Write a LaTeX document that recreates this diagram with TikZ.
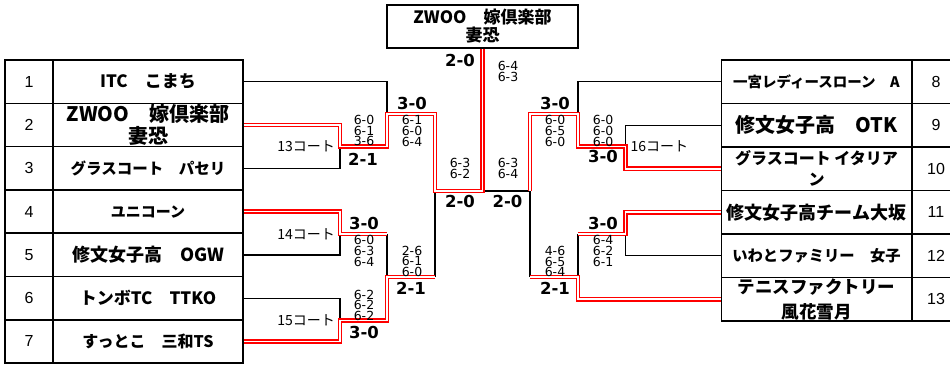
\documentclass[tikz,border=0pt]{standalone}
\usepackage{fontspec}
\setmainfont{Liberation Sans}
\newfontfamily\jp{Noto Sans CJK JP}
\newfontfamily\dv{DejaVu Sans}
\usetikzlibrary{positioning}

\begin{document}
\begin{tikzpicture}[x=1pt, y=-1pt,
    cell/.style={draw, line width=1.6pt, inner sep=0pt, minimum height=43.3pt, align=center},
    team/.style 2 args={cell, minimum width=190pt, font=\jp\bfseries\fontsize{#1}{#2}\selectfont},
    num/.style={cell, minimum width=48pt, font=\fontsize{16}{18}\selectfont},
    res/.style={inner sep=0pt, font=\dv\bfseries\fontsize{16.5}{18}\selectfont},
    sc/.style={inner sep=0pt, align=center, font=\dv\fontsize{12.5}{10.8}\selectfont},
    court/.style={inner sep=0pt, font=\jp\fontsize{14}{16}\selectfont},
    bline/.style={line width=1.3pt},
    rline/.style={draw=red, line width=1.5pt, double=white, double distance=1.8pt}]
    \useasboundingbox (0,0) rectangle (950,367);
    \clip (0,0) rectangle (950,367);

    \node[cell, minimum width=191pt, minimum height=43pt, font=\jp\bfseries\fontsize{17}{18}\selectfont] (title) at (482.5,26.5) {ZWOO　嫁倶楽部\\妻恐};

    \foreach \i in {1,...,7}
        \node[num] (n\i) at (29,{38.35+43.3*\i}) {\i};
    \foreach \i in {8,...,13}
        \node[num, minimum height=43.5pt] (n\i) at (936,{60+43.5*(\i-7.5)}) {\i};

    \node[team={17}{20}] (t1) at (148,81.65) {ITC　こまち};
    \node[team={20}{22}] (t2) at (148,124.95) {ZWOO　嫁倶楽部\\妻恐};
    \node[team={15.5}{20}] (t3) at (148,168.25) {グラスコート　パセリ};
    \node[team={15}{20}] (t4) at (148,211.55) {ユニコーン};
    \node[team={18}{20}] (t5) at (148,254.85) {修文女子高　OGW};
    \node[team={17}{20}] (t6) at (148,298.15) {トンボTC　TTKO};
    \node[team={16}{20}] (t7) at (148,341.45) {すっとこ　三和TS};
    \node[team={14.5}{20}, minimum height=43.5pt] (t8) at (816.5,81.75) {一宮レディースローン　A};
    \node[team={20}{22}, minimum height=43.5pt] (t9) at (816.5,125.25) {修文女子高　OTK};
    \node[team={16}{21}, minimum height=43.5pt] (t10) at (816.5,168.75) {グラスコート イタリア\\ン};
    \node[team={18}{20}, minimum height=43.5pt] (t11) at (816.5,212.25) {修文女子高チーム大坂};
    \node[team={15.3}{20}, minimum height=43.5pt] (t12) at (816.5,255.75) {いわとファミリー　女子};
    \node[team={17.5}{25}, minimum height=43.5pt] (t13) at (816.5,299.25) {テニスファクトリー\\風花雪月};

    \coordinate (a13) at (340,146.5);
    \coordinate (a14) at (340,234);
    \coordinate (a15) at (340,320.5);
    \coordinate (q1) at (387,114);
    \coordinate (q2) at (387,277);
    \coordinate (sL) at (435,191);
    \coordinate (fin) at (482.5,191);
    \coordinate (sR) at (530,191);
    \coordinate (q3) at (578,114);
    \coordinate (q4) at (578,277);
    \coordinate (a16) at (625.5,146.5);
    \coordinate (a17) at (625.5,234);

    \draw[bline] (t1.east) -| (a13 -| q1);
    \draw[bline] (t3.east) -| (a13);
    \draw[bline] (t5.east) -| (a14);
    \draw[bline] (t6.east) -| (a15);
    \draw[bline] (a14 -| q2) -- (a15 -| q2);
    \draw[bline] (q1 -| sL) -- (q2 -| sL);
    \draw[bline] (t8.west) -| (a16 -| q3);
    \draw[bline] (t9.west) -| (a16);
    \draw[bline] (t12.west) -| (a17);
    \draw[bline] (a17 -| q4) -- (t13.west -| q4);
    \draw[bline] (q3 -| sR) -- (q4 -| sR);
    \draw[bline] (fin) -- (sR);

    \draw[rline] (t2.east) -| (a13) -- (a13 -| q1) -- (q1) -- (q1 -| sL) -- (sL) -- (fin) -- (title.south);
    \draw[rline] (t4.east) -| (a14) -- (a14 -| q2);
    \draw[rline] (t7.east) -| (a15) -- (a15 -| q2) -- (q2) -- (q2 -| sL);
    \draw[rline] (t10.west) -| (a16) -- (a16 -| q3) -- (q3) -- (q3 -| sR) -- (sR);
    \draw[rline] (t11.west) -| (a17) -- (a17 -| q4);
    \draw[rline] (t13.west) -| (q4) -- (q4 -| sR);

    \node[court, left=5pt of a13] (c13) {13コート};
    \node[court, left=5pt of a14] (c14) {14コート};
    \node[court, left=5pt of a15] (c15) {15コート};
    \node[court, right=5pt of a16] (c16) {16コート};

    \node[sc] (s13) at (364,130.5) {6-0\\6-1\\3-6};
    \node[res] (r13) at (363,159) {2-1};
    \node[res] (rq1) at (412,103.3) {3-0};
    \node[sc] (sq1) at (412,131) {6-1\\6-0\\6-4};
    \node[res] (r14) at (364,223.3) {3-0};
    \node[sc] (s14) at (364,251) {6-0\\6-3\\6-4};
    \node[sc] (s15) at (364,305.3) {6-2\\6-2\\6-2};
    \node[res] (r15) at (364,332.3) {3-0};
    \node[sc] (sq2) at (412,261.3) {2-6\\6-1\\6-0};
    \node[res] (rq2) at (411,288.3) {2-1};

    \node[res] (rfL) at (460,60) {2-0};
    \node[sc] (sfA) at (508,71.2) {6-4\\6-3};
    \node[sc] (sfL) at (460,168.8) {6-3\\6-2};
    \node[sc] (sfR) at (508,168.8) {6-3\\6-4};
    \node[res] (rsL) at (460,201.7) {2-0};
    \node[res] (rsR) at (507.5,201.7) {2-0};

    \node[res] (rq3) at (555,103.3) {3-0};
    \node[sc] (sq3) at (555,131) {6-0\\6-5\\6-0};
    \node[sc] (s16) at (603,130.7) {6-0\\6-0\\6-0};
    \node[res] (r16) at (603,156.7) {3-0};
    \node[res] (r17) at (603,223.3) {3-0};
    \node[sc] (s17) at (603,251) {6-4\\6-2\\6-1};
    \node[sc] (sq4) at (555,261.5) {4-6\\6-5\\6-4};
    \node[res] (rq4) at (555,288.3) {2-1};
\end{tikzpicture}
\end{document}
